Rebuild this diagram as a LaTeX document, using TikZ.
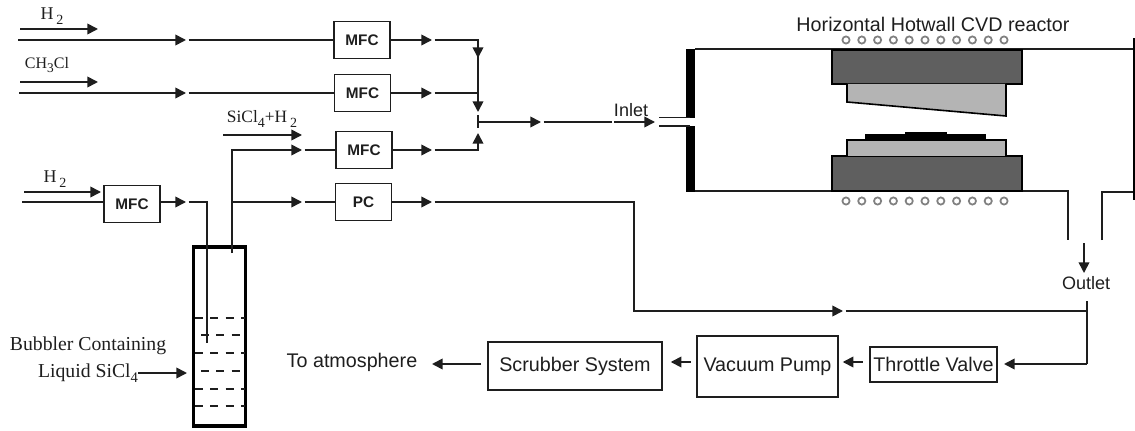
\documentclass[tikz,border=0pt]{standalone}
\usepackage{fontspec}
\setmainfont{Liberation Sans}
\newfontfamily\labelfont{Liberation Serif}
\usetikzlibrary{arrows.meta}
\definecolor{ink}{HTML}{1E1E1E}
\definecolor{heater}{HTML}{5F5F5F}
\definecolor{liner}{HTML}{B4B4B4}
\newcommand{\gassub}[1]{\,\raisebox{-0.55ex}{\fontsize{10.5}{11}\selectfont #1}}
\tikzset{%
  >={Triangle[length=8pt,width=8pt]},
  pipe/.style={
    draw=ink,
    line width=1.25pt},
  gap/.style={
    pipe,
    shorten <=2pt},
  every edge/.style={
    pipe,
    ->},
  box/.style={
    draw=ink,
    line width=1.1pt,
    inner sep=0pt,
    text=ink},
  mfcbox/.style={
    box,
    minimum width=42pt,
    minimum height=27.5pt,
    font=\fontsize{11.5}{13}\selectfont\bfseries},
  unitbox/.style={
    box,
    font=\fontsize{14.8}{17}\selectfont},
  gaslabel/.style={
    text=ink,
    inner sep=0pt,
    font=\labelfont\fontsize{13}{15}\selectfont},
  bublabel/.style={
    gaslabel,
    font=\labelfont\fontsize{14.8}{17}\selectfont},
  sanslabel/.style={
    text=ink,
    inner sep=0pt,
    font=\fontsize{13.5}{15}\selectfont},
  wall/.style={
    fill=black,
    draw=none},
  coil/.style={
    draw=gray,
    fill=white,
    line width=1.3pt}
}

\begin{document}
\begin{tikzpicture}[x=0.75pt,y=-0.75pt]
    \useasboundingbox (0,0) rectangle (1135,431);

    % boxes
    \node[mfcbox] (mfcA) at (362,40) {MFC};
    \node[mfcbox] (mfcB) at (362.5,93) {MFC};
    \node[mfcbox] (mfcC) at (364,150) {MFC};
    \node[mfcbox] (pc) at (363.5,202) {PC};
    \node[mfcbox] (mfcD) at (132,204) {MFC};
    \node[unitbox, minimum width=130.5pt, minimum height=36pt] (scrubber) at (575,366) {Scrubber System};
    \node[unitbox, minimum width=105.75pt, minimum height=45.75pt] (pump) at (767.5,366.5) {Vacuum Pump};
    \node[unitbox, minimum width=95.25pt, minimum height=26.25pt] (valve) at (933.5,364.5) {Throttle Valve};
    \node[draw=black, line width=2.6pt, minimum width=39pt, minimum height=134pt, inner sep=0pt] (bubbler) at (219.5,336.5) {};

    % labels
    \node[gaslabel, font=\labelfont\fontsize{13.5}{15}\selectfont] (hA) at (52,16) {H\gassub{2}};
    \node[gaslabel, font=\labelfont\fontsize{12}{14}\selectfont] (chcl) at (47,65) {CH\raisebox{-0.55ex}{\fontsize{10}{11}\selectfont 3}Cl};
    \node[gaslabel] (sicl) at (262,119) {SiCl\raisebox{-0.55ex}{\fontsize{10.5}{11}\selectfont 4}+H\gassub{2}};
    \node[gaslabel, font=\labelfont\fontsize{13.5}{15}\selectfont] (hB) at (55,179) {H\gassub{2}};
    \node[bublabel] (bubA) at (88,346) {Bubbler Containing};
    \node[bublabel] (bubB) at (88,373) {Liquid SiCl\raisebox{-0.55ex}{\fontsize{11}{12}\selectfont 4}};
    \node[unitbox, draw=none] (atm) at (352,362) {To atmosphere};
    \node[sanslabel] (inlet) at (631,110) {Inlet};
    \node[sanslabel] (outlet) at (1086,283) {Outlet};
    \node[unitbox, draw=none] (title) at (933,24) {Horizontal Hotwall CVD reactor};

    % free ends
    \coordinate (inA) at (18,40);
    \coordinate (tipA) at (186,40);
    \coordinate (outA) at (432,40);
    \coordinate (inB) at (19,93);
    \coordinate (tipB) at (186,93);
    \coordinate (outB) at (432,93);
    \coordinate (tipC) at (302,150);
    \coordinate (outC) at (432,150);
    \coordinate (tipP) at (302,202);
    \coordinate (outP) at (432,202);
    \coordinate (inD) at (22,202);
    \coordinate (outD) at (186,202);
    \coordinate (join) at (478,122);
    \coordinate (tipJ) at (541,122);
    \coordinate (endJ) at (612,122);
    \coordinate (inlA) at (614,122);
    \coordinate (inlB) at (655,122);
    \coordinate (turn) at (634,311);
    \coordinate (tipS) at (843,311);
    \coordinate (cross) at (1087,311);
    \coordinate (topS) at (1087,301);
    \coordinate (bend) at (1087,364);
    \coordinate (tipV) at (1004,364);
    \coordinate (bubIn) at (207,343);
    \coordinate (bubOut) at (232,253);
    \coordinate (split) at (232,202);
    \coordinate (level) at (0,362);
    \coordinate (atmEnd) at (432,364);
    \coordinate (scrEnd) at (481,364);

    % gas lines
    \draw
      (inA) edge (tipA)
      (inB) edge (tipB)
      (mfcA) edge (outA)
      (mfcB) edge (outB)
      (mfcC) edge (outC)
      (pc) edge (outP)
      (mfcD.east |- outD) edge (outD)
      (join) edge (tipJ)
      (inlA) edge (inlB)
      (split) edge (tipP)
      (bend) edge (tipV)
      (scrEnd) edge (atmEnd)
    ;
    \draw[->, pipe] (bubOut) |- (tipC);
    \draw[pipe] (inD) -- (mfcD.west |- inD);
    \draw[gap] (tipA) -- (mfcA);
    \draw[gap] (tipB) -- (mfcB);
    \draw[gap] (tipC) -- (mfcC);
    \draw[gap] (tipP) -- (pc);
    \draw[gap] (tipJ) -- (endJ);
    \draw[gap] (outA) -| (478,60);
    \draw[gap] (outB) -- (478,93);
    \draw[gap] (outC) -| (478,140);
    \draw[gap, ->] (outP) -| (turn) -- (tipS);
    \draw[gap] (tipS) -- (cross);
    \draw[pipe] (topS) -- (bend);
    \draw[gap] (outD) -| (bubIn);
    \draw[->, pipe] (478,40) -- (478,58);
    \draw[pipe] (478,58) -- (478,93);
    \draw[->, pipe] (478,93) -- (478,112);
    \draw[pipe] (478,115) -- (478,128);
    \draw[->, pipe] (478,150) -- (478,133);

    % short label arrows
    \draw[->, pipe] (20,29) -- (98,29);
    \draw[->, pipe] (20,82) -- (98,82);
    \draw[->, pipe] (223,135) -- (302,135);
    \draw[->, pipe] (24,192) -- (101,192);
    \draw[->, pipe] (bubB.east) -- (187,373);

    \draw
      (pump.west |- level) edge [shorten <=4pt, shorten >=6pt] (scrubber.east |- level)
      (valve.west |- level) edge [shorten <=5pt, shorten >=3pt] (pump.east |- level)
    ;

    % reactor body
    \fill[wall] (686,49) rectangle (695,118);
    \fill[wall] (686,126) rectangle (695,192);
    \fill[wall] (1132.5,38) rectangle (1135,200);
    \draw[pipe] (695,49) -- (1133,49);
    \draw[pipe] (659,117.5) -- (690,117.5);
    \draw[pipe] (659,126) -- (690,126);
    \draw[pipe, line width=1.5pt] (695,191) -- (1068,191) -- (1068,240);
    \draw[pipe, line width=1.5pt] (1102,240) -- (1102,192) -- (1133,192);
    \draw[->, pipe] (1084,243) -- (1084,273);

    % heaters and liners
    \draw[fill=heater, line width=1.6pt] (832,50) rectangle (1022,84);
    \draw[fill=heater, line width=1.6pt] (832,156) rectangle (1022,191);
    \draw[fill=liner, line width=1.2pt] (847,84) -- (847,102) -- (1006,116) -- (1006,84);
    \draw[fill=liner, line width=1.2pt] (847,156) -- (847,140) -- (1006,140) -- (1006,156);
    \fill[black] (865,134) rectangle (986,140);
    \fill[black] (905,132) rectangle (947,134);
    \foreach \n in {0,...,10} {
      \draw[coil] (846+15.8*\n,40) circle (3.6);
      \draw[coil] (846+15.8*\n,201) circle (3.6);
    }

    % liquid levels
    \foreach \y/\xs in {318/195, 335/201, 353/195, 371/201, 389/195, 406/195} {
      \draw[ink, line width=0.9pt, dash pattern=on 6pt off 5.5pt] (\xs,\y) -- (245,\y);
    }
\end{tikzpicture}
\end{document}
